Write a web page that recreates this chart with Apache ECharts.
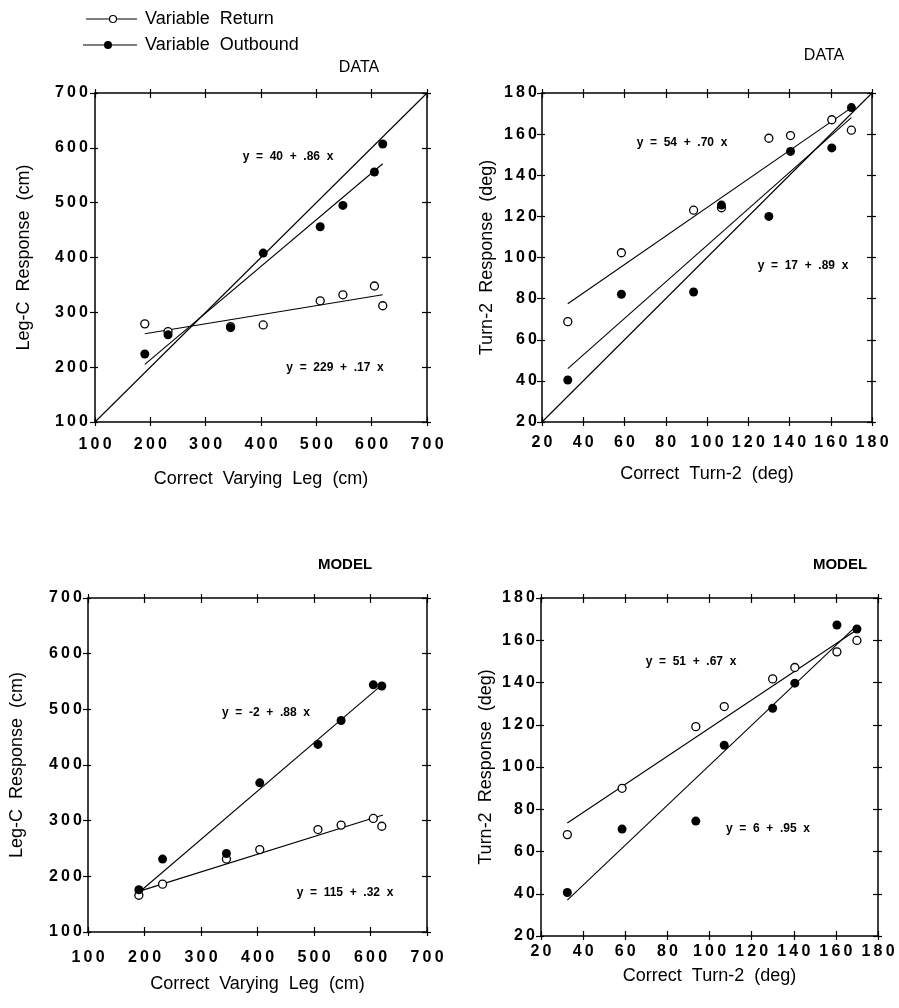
<!DOCTYPE html>
<html>
<head>
<meta charset="utf-8">
<title>Leg-C and Turn-2 responses</title>
<script src="https://cdn.jsdelivr.net/npm/echarts@6/dist/echarts.min.js"></script>
<style>
  html, body { margin: 0; padding: 0; background: #fff; }
  #main { width: 899px; height: 1008px; }
</style>
</head>
<body>
<div id="main"></div>
<script>
// correct values (x) shared by the panels
var legX  = [190, 232, 345, 404, 507, 548, 605, 620];
var turnX = [32.5, 58.5, 93.5, 107, 130, 140.5, 160.5, 170];

// DATA panels
var dataLegReturn    = [279, 265, 274, 277, 321, 332, 348, 312];
var dataLegOutbound  = [224, 259, 272, 408, 456, 495, 556, 607];
var dataTurnReturn   = [68.8, 102.3, 123, 124.2, 158, 159.3, 167, 161.9];
var dataTurnOutbound = [40.4, 82.1, 83.2, 125.5, 120, 151.6, 153.3, 172.9];

// MODEL panels
var modelLegReturn    = [166, 186, 231, 248, 284, 292, 304, 290];
var modelLegOutbound  = [176, 231, 241, 368, 437, 480, 544, 542];
var modelTurnReturn   = [68, 89.9, 119.1, 128.6, 141.7, 147.1, 154.5, 159.9];
var modelTurnOutbound = [40.6, 70.6, 74.4, 110.3, 127.8, 139.7, 167.2, 165.3];

// fitted lines (end points)
var fitDataLegReturn     = [[190, 261], [620, 332]];
var fitDataLegOutbound   = [[190, 205], [620, 571]];
var fitDataTurnReturn    = [[32.5, 77.5], [171, 173.5]];
var fitDataTurnOutbound  = [[32.5, 46], [170, 168]];
var fitModelLegReturn    = [[190, 173], [622, 310]];
var fitModelLegOutbound  = [[190, 171], [618, 542]];
var fitModelTurnReturn   = [[32.5, 73.5], [170, 165]];
var fitModelTurnOutbound = [[32.5, 37], [170, 167]];
var diagLeg  = [[100, 100], [700, 700]];
var diagTurn = [[20, 20], [180, 180]];

// equation texts
var eqText = ['y  =  40  +  .86  x', 'y  =  229  +  .17  x', 'y  =  54  +  .70  x', 'y  =  17  +  .89  x',
              'y  =  -2  +  .88  x', 'y  =  115  +  .32  x', 'y  =  51  +  .67  x', 'y  =  6  +  .95  x'];

var FONT = "'Liberation Sans', Arial, Helvetica, sans-serif";

function pairs(xs, ys) {
    var out = [];
    for (var i = 0; i < xs.length; i++) { out.push([xs[i], ys[i]]); }
    return out;
}

function spaced(v) {
    return String(v).split('').join('\u2009');
}

var panels = [
    { grid: {left: 95, top: 93, width: 332, height: 329}, min: 100, max: 700, step: 100,
      xName: 'Correct  Varying  Leg  (cm)', yName: 'Leg-C  Response  (cm)',
      xGap: 48, yGap: 62, xMargin: 15, yMargin: 7 },
    { grid: {left: 542, top: 93, width: 330, height: 329}, min: 20, max: 180, step: 20,
      xName: 'Correct  Turn-2  (deg)', yName: 'Turn-2  Response  (deg)',
      xGap: 43, yGap: 46, xMargin: 13, yMargin: 5 },
    { grid: {left: 88, top: 598, width: 339, height: 334}, min: 100, max: 700, step: 100,
      xName: 'Correct  Varying  Leg  (cm)', yName: 'Leg-C  Response  (cm)',
      xGap: 43, yGap: 62, xMargin: 18, yMargin: 6 },
    { grid: {left: 541, top: 598, width: 337, height: 338}, min: 20, max: 180, step: 20,
      xName: 'Correct  Turn-2  (deg)', yName: 'Turn-2  Response  (deg)',
      xGap: 31, yGap: 46, xMargin: 8, yMargin: 6 }
];

var grids = [], xAxes = [], yAxes = [];
var axisLineStyle = {color: '#000', width: 1.5};
var tickLineStyle = {color: '#000', width: 1.2};

panels.forEach(function (p, g) {
    grids.push(p.grid);
    var base = {gridIndex: g, type: 'value', min: p.min, max: p.max, interval: p.step,
                splitLine: {show: false}};
    // x: bottom with labels, bottom outer ticks, top inner, top outer
    xAxes.push(Object.assign({}, base, {
        position: 'bottom', name: p.xName, nameLocation: 'middle', nameGap: p.xGap,
        nameTextStyle: {fontFamily: FONT, fontSize: 18, color: '#000'},
        axisLine: {onZero: false, lineStyle: axisLineStyle},
        axisTick: {inside: true, length: 5, lineStyle: tickLineStyle},
        axisLabel: {margin: p.xMargin, fontFamily: FONT, fontSize: 16, fontWeight: 'bold',
                    color: '#000', formatter: spaced}
    }));
    xAxes.push(Object.assign({}, base, {position: 'bottom',
        axisLine: {show: false, onZero: false}, axisTick: {inside: false, length: 4, lineStyle: tickLineStyle},
        axisLabel: {show: false}}));
    xAxes.push(Object.assign({}, base, {position: 'top',
        axisLine: {onZero: false, lineStyle: axisLineStyle}, axisTick: {inside: true, length: 5, lineStyle: tickLineStyle},
        axisLabel: {show: false}}));
    xAxes.push(Object.assign({}, base, {position: 'top',
        axisLine: {show: false, onZero: false}, axisTick: {inside: false, length: 4, lineStyle: tickLineStyle},
        axisLabel: {show: false}}));
    // y: left with labels, left inner ticks, right inner, right outer
    yAxes.push(Object.assign({}, base, {
        position: 'left', name: p.yName, nameLocation: 'middle', nameGap: p.yGap,
        nameTextStyle: {fontFamily: FONT, fontSize: 18, color: '#000'},
        axisLine: {onZero: false, lineStyle: axisLineStyle},
        axisTick: {inside: false, length: 5, lineStyle: tickLineStyle},
        axisLabel: {margin: p.yMargin, fontFamily: FONT, fontSize: 16, fontWeight: 'bold',
                    color: '#000', formatter: spaced}
    }));
    yAxes.push(Object.assign({}, base, {position: 'left',
        axisLine: {show: false, onZero: false}, axisTick: {inside: true, length: 3, lineStyle: tickLineStyle},
        axisLabel: {show: false}}));
    yAxes.push(Object.assign({}, base, {position: 'right',
        axisLine: {onZero: false, lineStyle: axisLineStyle}, axisTick: {inside: true, length: 5, lineStyle: tickLineStyle},
        axisLabel: {show: false}}));
    yAxes.push(Object.assign({}, base, {position: 'right',
        axisLine: {show: false, onZero: false}, axisTick: {inside: false, length: 4, lineStyle: tickLineStyle},
        axisLabel: {show: false}}));
});

function fitLine(g, data) {
    return {type: 'line', xAxisIndex: 4 * g, yAxisIndex: 4 * g, data: data, symbol: 'none',
            silent: true, z: 2, lineStyle: {color: '#000', width: 1.1}};
}
function openPts(g, xs, ys) {
    return {type: 'scatter', name: 'Variable Return', xAxisIndex: 4 * g, yAxisIndex: 4 * g,
            data: pairs(xs, ys), symbol: 'circle', symbolSize: 8, z: 3,
            itemStyle: {color: '#fff', borderColor: '#000', borderWidth: 1.3, opacity: 1}};
}
function filledPts(g, xs, ys) {
    return {type: 'scatter', name: 'Variable Outbound', xAxisIndex: 4 * g, yAxisIndex: 4 * g,
            data: pairs(xs, ys), symbol: 'circle', symbolSize: 9, z: 4,
            itemStyle: {color: '#000', opacity: 1}};
}

var series = [
    fitLine(0, diagLeg), fitLine(0, fitDataLegReturn), fitLine(0, fitDataLegOutbound),
    openPts(0, legX, dataLegReturn), filledPts(0, legX, dataLegOutbound),

    fitLine(1, diagTurn), fitLine(1, fitDataTurnReturn), fitLine(1, fitDataTurnOutbound),
    openPts(1, turnX, dataTurnReturn), filledPts(1, turnX, dataTurnOutbound),

    fitLine(2, fitModelLegReturn), fitLine(2, fitModelLegOutbound),
    openPts(2, legX, modelLegReturn), filledPts(2, legX, modelLegOutbound),

    fitLine(3, fitModelTurnReturn), fitLine(3, fitModelTurnOutbound),
    openPts(3, turnX, modelTurnReturn), filledPts(3, turnX, modelTurnOutbound)
];

function label(text, x, y, size, weight) {
    return {type: 'text', x: x, y: y, z: 10,
            style: {text: text, fill: '#000', font: (weight || 'normal') + ' ' + size + 'px ' + FONT,
                    textAlign: 'center', textVerticalAlign: 'middle'}};
}

var eqPos = [[288, 157], [335, 368], [682, 143], [803, 266],
             [266, 713], [345, 893], [691, 662], [768, 829]];

var graphics = [
    label('DATA', 359, 68, 16),
    label('DATA', 824, 56, 16),
    label('MODEL', 345, 565, 15, 'bold'),
    label('MODEL', 840, 565, 15, 'bold'),
    // legend
    {type: 'line', shape: {x1: 86, y1: 19, x2: 137, y2: 19}, style: {stroke: '#000', lineWidth: 1.2}},
    {type: 'circle', shape: {cx: 113, cy: 19, r: 3.5}, z: 5, style: {fill: '#fff', stroke: '#000', lineWidth: 1.2}},
    {type: 'text', x: 145, y: 19, style: {text: 'Variable  Return', fill: '#000',
        font: '18px ' + FONT, textVerticalAlign: 'middle'}},
    {type: 'line', shape: {x1: 83, y1: 45, x2: 137, y2: 45}, style: {stroke: '#000', lineWidth: 1.2}},
    {type: 'circle', shape: {cx: 108, cy: 45, r: 4}, z: 5, style: {fill: '#000'}},
    {type: 'text', x: 145, y: 45, style: {text: 'Variable  Outbound', fill: '#000',
        font: '18px ' + FONT, textVerticalAlign: 'middle'}}
];
for (var i = 0; i < eqText.length; i++) {
    graphics.push(label(eqText[i], eqPos[i][0], eqPos[i][1], 12, 'bold'));
}

var chart = echarts.init(document.getElementById('main'), null, {renderer: 'canvas'});
chart.setOption({
    backgroundColor: '#fff',
    animation: false,
    grid: grids,
    xAxis: xAxes,
    yAxis: yAxes,
    series: series,
    graphic: graphics
});
</script>
</body>
</html>
